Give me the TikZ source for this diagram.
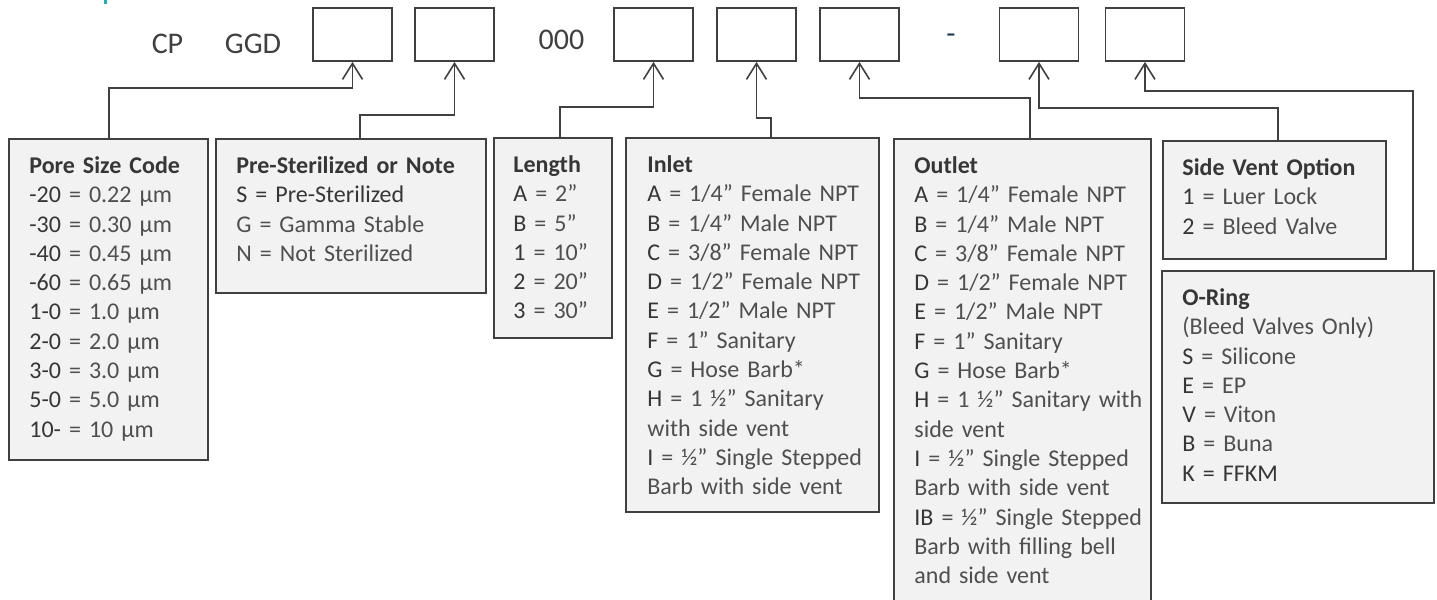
\documentclass[tikz,border=0pt]{standalone}
\usepackage{fontspec}
\setmainfont{Carlito}
\usetikzlibrary{arrows.meta}
\definecolor{edge}{HTML}{404040}
\definecolor{panel}{HTML}{F2F2F2}
\definecolor{codegray}{HTML}{363636}
\definecolor{descgray}{HTML}{4F4F4F}
\definecolor{dashblue}{HTML}{1F3B57}
\definecolor{tickcyan}{HTML}{1CB0C8}
\newcommand{\head}[1]{\rule{0pt}{10pt}\textbf{\color{codegray}#1}}
\newcommand{\code}[1]{{\color{codegray}#1}}
\tikzset{
  slot/.style={
    draw=edge,
    line width=0.9pt,
    fill=white,
    inner sep=0pt,
    minimum width=39.5pt,
    minimum height=26.5pt
  },
  field/.style={
    draw=edge,
    line width=1.1pt,
    fill=panel,
    inner sep=0pt,
    anchor=north west
  },
  listtext/.style={
    anchor=north west,
    inner sep=0pt,
    align=left,
    text=descgray,
    font=\fontsize{12}{14.65}\selectfont
  },
  partno/.style={
    inner sep=0pt,
    text=edge,
    font=\fontsize{15}{18}\selectfont
  },
  link/.style={
    draw=edge,
    line width=0.8pt,
    -{Straight Barb[length=8pt,width=10pt]}
  }
}

\begin{document}
\begin{tikzpicture}[x=0.5pt,y=-0.5pt]
    \useasboundingbox (0,0) rectangle (1437,600);
    \fill[tickcyan] (104,0) rectangle (107,4);
    % part number
    \node[partno] (cp) at (167.5,43.5) {CP};
    \node[partno] (ggd) at (253,43.5) {GGD};
    \node[partno] (zeros) at (561.5,39.5) {000};
    \node[partno, text=dashblue, anchor=base] (dash) at (951,43) {-};
    \foreach \n/\x in {1/352.5,2/454.5,3/653.5,4/756.5,5/859.5,6/1039,7/1145}{
        \node[slot] (b\n) at (\x,34.5) {};
    }
    % option boxes
    \node[field, minimum width=99.5pt, minimum height=160.5pt] (pore) at (8,138) {};
    \node[field, minimum width=135pt, minimum height=77pt] (prester) at (215,138) {};
    \node[field, minimum width=59pt, minimum height=100pt] (length) at (493,137) {};
    \node[field, minimum width=126.5pt, minimum height=187pt] (inlet) at (625,137) {};
    \node[field, minimum width=128.5pt, minimum height=233.5pt] (outlet) at (893,138) {};
    \node[field, minimum width=111.5pt, minimum height=59pt] (sidevent) at (1162,140) {};
    \node[field, minimum width=136pt, minimum height=116pt] (oring) at (1161,270) {};
    \node[listtext, text width=88pt] (poretxt) at (29,153) {\head{Pore Size Code}\\
        \code{-20} = 0.22 µm\\ \code{-30} = 0.30 µm\\ \code{-40} = 0.45 µm\\
        \code{-60} = 0.65 µm\\ \code{1-0} = 1.0 µm\\ \code{2-0} = 2.0 µm\\
        \code{3-0} = 3.0 µm\\ \code{5-0} = 5.0 µm\\ \code{10-} = 10 µm};
    \node[listtext, text width=124pt] (prestertxt) at (236,153) {\head{Pre-Sterilized or Note}\\
        \code{S = Pre-Sterilized}\\ G = Gamma Stable\\ N = Not Sterilized};
    \node[listtext, text width=48pt] (lengthtxt) at (513,152) {\head{Length}\\
        \code{A} = 2”\\ \code{B} = 5”\\ \code{1} = 10”\\ \code{2} = 20”\\ \code{3} = 30”};
    \node[listtext, text width=115pt] (inlettxt) at (647,152) {\head{Inlet}\\
        \code{A} = 1/4” Female NPT\\ \code{B} = 1/4” Male NPT\\
        \code{C} = 3/8” Female NPT\\ \code{D} = 1/2” Female NPT\\
        \code{E} = 1/2” Male NPT\\ \code{F} = 1” Sanitary\\
        \code{G} = Hose Barb*\\ \code{H} = 1 ½” Sanitary\\ with side vent\\
        \code{I} = ½” Single Stepped\\ Barb with side vent};
    \node[listtext, text width=117pt] (outlettxt) at (914,153) {\head{Outlet}\\
        \code{A} = 1/4” Female NPT\\ \code{B} = 1/4” Male NPT\\
        \code{C} = 3/8” Female NPT\\ \code{D} = 1/2” Female NPT\\
        \code{E} = 1/2” Male NPT\\ \code{F} = 1” Sanitary\\
        \code{G} = Hose Barb*\\ \code{H} = 1 ½” Sanitary with\\ side vent\\
        \code{I} = ½” Single Stepped\\ Barb with side vent\\
        \code{IB} = ½” Single Stepped\\ Barb with filling bell\\ and side vent};
    \node[listtext, text width=100pt] (sidevtxt) at (1182,155) {\head{Side Vent Option}\\
        \code{1} = Luer Lock\\ \code{2} = Bleed Valve};
    \node[listtext, text width=124pt] (oringtxt) at (1182,285) {\head{O-Ring}\\
        (Bleed Valves Only)\\ \code{S} = Silicone\\ \code{E} = EP\\
        \code{V} = Viton\\ \code{B} = Buna\\ \code{K = FFKM}};
    % connectors
    \foreach \src/\dx/\n/\dy in {pore/50.5/1/13,prester/72.5/2/26.5,length/33.5/3/22.5,
        inlet/73/4/28,outlet/68.5/5/18,sidevent/58/6/23,oring/126/7/14.5}{
        \draw[link] ([xshift=\dx pt]\src.north west) |- ([yshift=-\dy pt]b\n.south) -- (b\n.south);
    }
\end{tikzpicture}
\end{document}
